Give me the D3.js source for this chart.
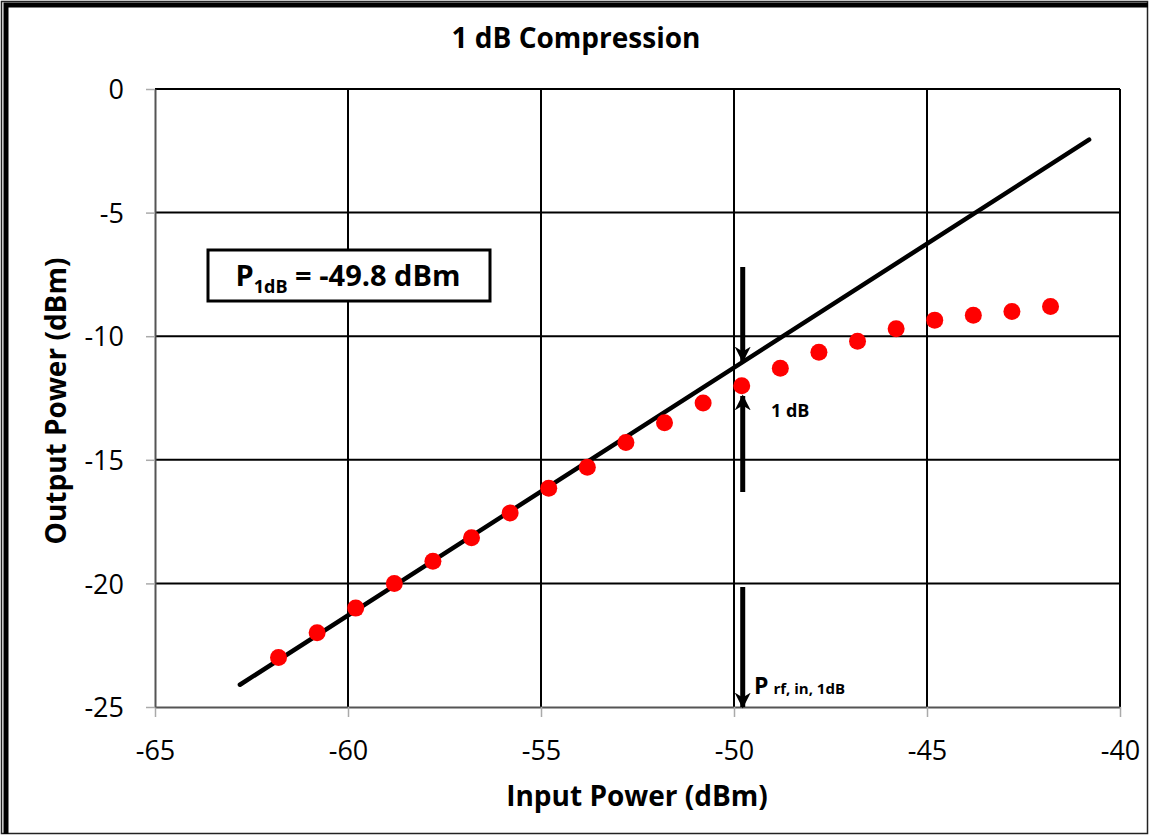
<!doctype html>
<html lang="en">
<head>
<meta charset="utf-8">
<title>1 dB Compression</title>
<script src="https://cdn.jsdelivr.net/npm/d3@7"></script>
<style>
  body { margin: 0; background: #fff; }
  svg text { font-family: "Open Sans", Lato, sans-serif; }
</style>
</head>
<body>
<svg id="chart" width="1151" height="836"></svg>
<script>
// measured output power (red dots)
const inputPower = [-61.8, -60.8, -59.8, -58.8, -57.8, -56.8, -55.8, -54.8, -53.8, -52.8, -51.8, -50.8, -49.8, -48.8, -47.8, -46.8, -45.8, -44.8, -43.8, -42.8, -41.8];
const outputPower = [-23, -22, -21, -20, -19.1, -18.15, -17.15, -16.15, -15.3, -14.3, -13.5, -12.7, -12.0, -11.3, -10.65, -10.2, -9.7, -9.35, -9.15, -9.0, -8.8];
// ideal linear gain line
const idealIn = [-62.8, -40.8];
const idealOut = [-24.1, -2.05];
const xTicks = [-65, -60, -55, -50, -45, -40];
const yTicks = [0, -5, -10, -15, -20, -25];
const p1dB = -49.8;

const svg = d3.select("#chart");

// outer frame (thick top/left, thin bottom/right)
svg.append("rect").attr("x", 1.5).attr("y", 1.5).attr("width", 1146).attr("height", 832)
  .attr("fill", "none").attr("stroke", "#222").attr("stroke-width", 1.5);
svg.append("path").attr("d", "M6,834 V5 H1148")
  .attr("fill", "none").attr("stroke", "#000").attr("stroke-width", 5);

const x = d3.scaleLinear().domain([-65, -40]).range([155, 1120]);
const y = d3.scaleLinear().domain([-25, 0]).range([707, 89]);

// grid
svg.append("g").selectAll("line").data(yTicks.filter(d => d > -25))
  .join("line")
  .attr("x1", x(-65)).attr("x2", x(-40))
  .attr("y1", d => y(d)).attr("y2", d => y(d))
  .attr("stroke", "#000").attr("stroke-width", 2);
svg.append("g").selectAll("line").data(xTicks.filter(d => d > -65))
  .join("line")
  .attr("x1", d => x(d)).attr("x2", d => x(d))
  .attr("y1", y(0)).attr("y2", y(-25))
  .attr("stroke", "#000").attr("stroke-width", 2);

// axes
const fmt = d => String(d);
const xAxis = svg.append("g").attr("transform", `translate(0,${y(-25)})`)
  .call(d3.axisBottom(x).tickValues(xTicks).tickFormat(fmt).tickSize(10).tickSizeOuter(0));
const yAxis = svg.append("g").attr("transform", `translate(${x(-65)},0)`)
  .call(d3.axisLeft(y).tickValues(yTicks).tickFormat(fmt).tickSize(9).tickSizeOuter(0).tickPadding(22));
[xAxis, yAxis].forEach(a => {
  a.select(".domain").attr("stroke", "#555").attr("stroke-width", 2);
  a.selectAll(".tick line").attr("stroke", "#aaa").attr("stroke-width", 1.5);
  a.selectAll(".tick text").attr("font-size", 27).attr("fill", "#000")
    .style("font-family", "'Open Sans', Lato, sans-serif");
});
xAxis.selectAll(".tick text").attr("y", 53).attr("dy", 0);
yAxis.selectAll(".tick text").attr("dy", "0.36em");

// ideal line
const ideal = idealIn.map((v, i) => [v, idealOut[i]]);
svg.append("path").datum(ideal)
  .attr("d", d3.line().x(d => x(d[0])).y(d => y(d[1])))
  .attr("stroke", "#000").attr("stroke-width", 4.5).attr("stroke-linecap", "round").attr("fill", "none");

// dots
svg.append("g").selectAll("circle").data(inputPower)
  .join("circle")
  .attr("cx", d => x(d)).attr("cy", (d, i) => y(outputPower[i]))
  .attr("r", 8.5).attr("fill", "#ff0000");

// arrows
const defs = svg.append("defs");
defs.append("marker").attr("id", "head").attr("viewBox", "0 0 10 10")
  .attr("refX", 9).attr("refY", 5).attr("markerWidth", 3.2).attr("markerHeight", 3.2)
  .attr("markerUnits", "strokeWidth").attr("orient", "auto")
  .append("path").attr("d", "M0,0 L10,5 L0,10 L3,5 Z").attr("fill", "#000");

const ax = x(p1dB) + 1;
function arrow(y1, y2) {
  svg.append("line").attr("x1", ax).attr("x2", ax).attr("y1", y1).attr("y2", y2)
    .attr("stroke", "#000").attr("stroke-width", 5).attr("marker-end", "url(#head)");
}
arrow(267, 361);
arrow(492, 396);
arrow(587, 707);

svg.append("text").attr("x", 771).attr("y", 417)
  .attr("font-size", 18).attr("font-weight", "bold").text("1 dB");

const pin = svg.append("text").attr("x", 754).attr("y", 694).attr("font-weight", "bold");
pin.append("tspan").attr("font-size", 23).text("P");
pin.append("tspan").attr("font-size", 15).attr("dx", 5).text("rf, in, 1dB");

// P1dB box
svg.append("rect").attr("x", 208).attr("y", 250).attr("width", 282).attr("height", 51)
  .attr("fill", "#fff").attr("stroke", "#000").attr("stroke-width", 3);
const pl = svg.append("text").attr("x", 348).attr("y", 286).attr("text-anchor", "middle")
  .attr("font-weight", "bold").attr("font-size", 29);
pl.append("tspan").text("P");
pl.append("tspan").attr("font-size", 18).attr("dy", 7).text("1dB");
pl.append("tspan").attr("dy", -7).text(" = -49.8 dBm");

// titles
svg.append("text").attr("x", 576).attr("y", 48).attr("text-anchor", "middle")
  .attr("font-size", 28).attr("font-weight", "bold").text("1 dB Compression");
svg.append("text").attr("x", 637).attr("y", 806).attr("text-anchor", "middle")
  .attr("font-size", 28).attr("font-weight", "bold").text("Input Power (dBm)");
svg.append("text").attr("transform", "translate(66,401) rotate(-90)").attr("text-anchor", "middle")
  .attr("font-size", 28).attr("font-weight", "bold").text("Output Power (dBm)");
</script>
</body>
</html>
